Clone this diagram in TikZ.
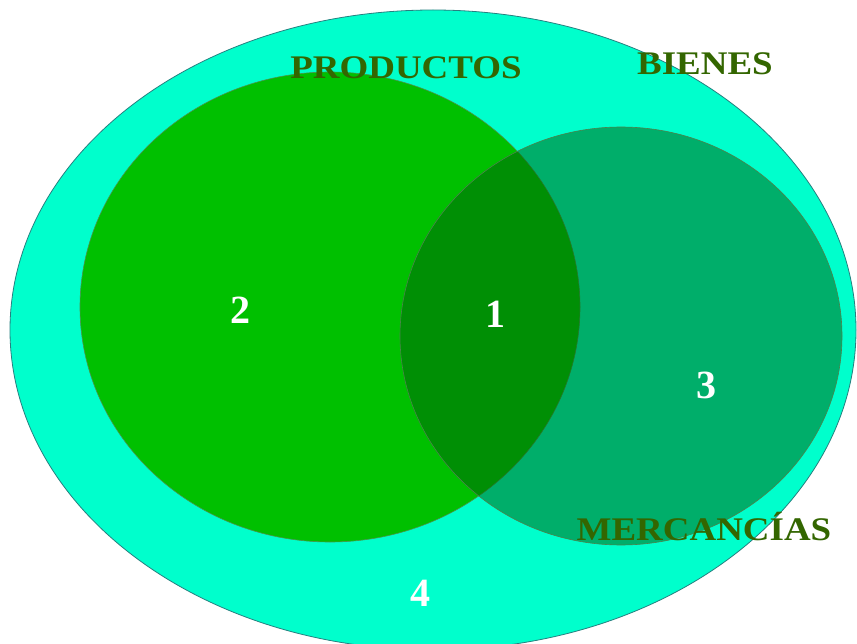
\documentclass[tikz,border=0pt]{standalone}
\usepackage{fontspec}
\setmainfont{Liberation Serif}
\definecolor{aqua}{RGB}{0,255,204}
\definecolor{prodgreen}{RGB}{0,192,0}
\definecolor{mercgreen}{RGB}{0,95,10}
\definecolor{labelgreen}{RGB}{51,102,0}
\begin{document}
\begin{tikzpicture}[x=1pt,y=-1pt,
  setname/.style={font=\fontsize{33}{33}\selectfont\bfseries, text=labelgreen, anchor=base, inner sep=0pt},
  numlabel/.style={font=\fontsize{40}{40}\selectfont\bfseries, text=white, anchor=base, inner sep=0pt}]
\useasboundingbox (0,0) rectangle (857,644);
\clip (0,0) rectangle (857,644);
\fill[white] (0,0) rectangle (857,644);
% BIENES
\filldraw[fill=aqua, draw=teal!70!gray, line width=0.8pt] (433,330) ellipse [x radius=423, y radius=320];
% PRODUCTOS
\filldraw[fill=prodgreen, draw=green!40!black!70, line width=0.6pt] (330,307) ellipse [x radius=250, y radius=235];
% MERCANCIAS
\fill[mercgreen, fill opacity=0.5] (621,336) ellipse [x radius=221, y radius=209];
\draw[green!30!black!70, line width=0.6pt] (621,336) ellipse [x radius=221, y radius=209];
% labels
\node[setname] (productos) at (406,79) {\scalebox{1.12}[1]{PRODUCTOS}};
\node[setname] (bienes) at (705,75) {\scalebox{1.12}[1]{BIENES}};
\node[setname] (mercancias) at (704,540) {\scalebox{1.12}[1]{MERCANCÍAS}};
\node[numlabel] (n2) at (240,324) {2};
\node[numlabel] (n1) at (495,328) {1};
\node[numlabel] (n3) at (706,398) {3};
\node[numlabel] (n4) at (420,606) {4};
\end{tikzpicture}
\end{document}
